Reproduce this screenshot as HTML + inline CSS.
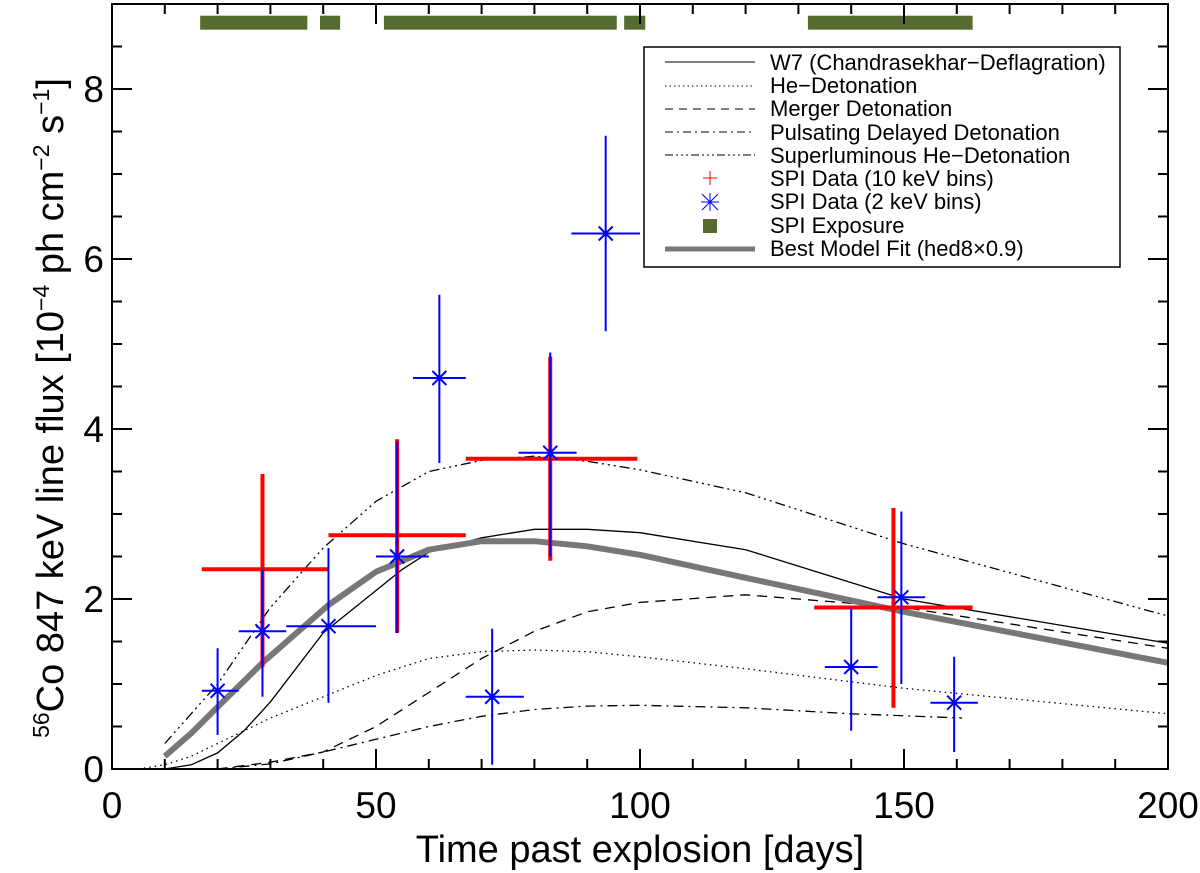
<!DOCTYPE html>
<html><head><meta charset="utf-8"><style>
body{margin:0;background:#fff;}
svg{display:block;font-family:"Liberation Sans",sans-serif;}
</style></head><body>
<svg id="chart" width="1200" height="873" xmlns="http://www.w3.org/2000/svg">
<g id="plot"></g>
</svg>
<script>
const xTicks=[0,50,100,150,200];
const yTicks=[0,2,4,6,8];
const modelX=[5,10,15,20,25,30,40,50,55,60,70,80,90,100,120,150,200];
const w7=[0,0,0.05,0.19,0.45,0.79,1.6,2.1,2.35,2.55,2.72,2.82,2.82,2.78,2.58,2.0,1.48];
const heDet=[0,0.05,0.15,0.3,0.45,0.6,0.85,1.1,1.2,1.3,1.38,1.4,1.38,1.32,1.18,0.95,0.65];
const mergerX=[20,30,40,50,60,70,80,90,100,120,150,200];
const merger=[0,0.08,0.2,0.5,0.9,1.3,1.62,1.85,1.96,2.05,1.9,1.42];
const pddX=[20,30,40,50,60,70,80,90,100,120,140,161];
const pdd=[0,0.06,0.2,0.35,0.5,0.62,0.7,0.74,0.75,0.72,0.65,0.6];
const slX=[10,20,30,40,50,60,70,80,90,100,120,150,200];
const sl=[0.3,1.0,1.9,2.6,3.15,3.5,3.63,3.68,3.62,3.52,3.25,2.65,1.8];
const fitX=[10,15,20,28.5,41,50,60,70,80,90,100,120,150,200];
const fit=[0.15,0.42,0.73,1.25,1.93,2.32,2.58,2.68,2.68,2.62,2.52,2.25,1.85,1.25];
const blueX=[20,28.5,41,54,62,72,83,93.5,140,149.5,159.5];
const blueY=[0.92,1.62,1.68,2.5,4.6,0.85,3.72,6.3,1.2,2.02,0.78];
const blueXlo=[17,24,33,50,57,67,77,87,135,145,155];
const blueXhi=[24,33,50,60,67,78,88,100,145,154,164];
const blueYlo=[0.4,0.85,0.78,1.6,3.6,0.05,2.5,5.15,0.45,1.0,0.2];
const blueYhi=[1.42,2.35,2.6,3.85,5.58,1.65,4.9,7.45,1.9,3.03,1.32];
const redX=[28.5,54,83,148];
const redY=[2.35,2.75,3.65,1.9];
const redXlo=[17,41,67,133];
const redXhi=[41,67,99.5,163];
const redYlo=[1.2,1.6,2.45,0.72];
const redYhi=[3.47,3.88,4.85,3.07];
const expStart=[16.7,39.4,51.5,97,131.8];
const expEnd=[37,43.2,95.6,101,163];
const expLevel=8.78;

const X0=112,X1=1168,Y0=769,Y1=4;
const xs=v=>X0+(v/200)*(X1-X0);
const ys=v=>Y0-(v/9)*(Y0-Y1);
const NS="http://www.w3.org/2000/svg";
const svg=document.getElementById('chart');
const g=document.getElementById('plot');
function mk(tag,attrs,parent){const e=document.createElementNS(NS,tag);for(const k in attrs)e.setAttribute(k,attrs[k]);(parent||g).appendChild(e);return e;}

for(let i=0;i<expStart.length;i++){
  const r=mk('rect',{x:xs(expStart[i]),y:ys(expLevel)-7,width:xs(expEnd[i])-xs(expStart[i]),height:14,fill:'#556b2f'});
  
  
}
function line(xa,ya,style,name){
  const d=xa.map((x,i)=>(i?'L':'M')+xs(x).toFixed(1)+' '+ys(ya[i]).toFixed(1)).join(' ');
  const p=mk('path',Object.assign({d:d,fill:'none'},style));
  
  
}
line(modelX,w7,{stroke:'#000','stroke-width':1.3},'w7-curve');
line(modelX,heDet,{stroke:'#000','stroke-width':1.3,'stroke-dasharray':'1.5 4'},'he-detonation-curve');
line(mergerX,merger,{stroke:'#000','stroke-width':1.3,'stroke-dasharray':'10 7'},'merger-detonation-curve');
line(pddX,pdd,{stroke:'#000','stroke-width':1.3,'stroke-dasharray':'10 5 2 5'},'pulsating-delayed-detonation-curve');
line(slX,sl,{stroke:'#000','stroke-width':1.3,'stroke-dasharray':'10 4 2 4 2 4 2 4'},'superluminous-he-detonation-curve');
line(fitX,fit,{stroke:'#777','stroke-width':6,'stroke-linejoin':'round'},'best-fit-curve');

for(let i=0;i<redX.length;i++){
  const e=mk('path',{d:`M${xs(redXlo[i])} ${ys(redY[i])}H${xs(redXhi[i])}M${xs(redX[i])} ${ys(redYlo[i])}V${ys(redYhi[i])}`,stroke:'#f00','stroke-width':4,fill:'none'});
  
  
}
for(let i=0;i<blueX.length;i++){
  const cx=xs(blueX[i]),cy=ys(blueY[i]);
  const e=mk('path',{d:`M${xs(blueXlo[i])} ${cy}H${xs(blueXhi[i])}M${cx} ${ys(blueYlo[i])}V${ys(blueYhi[i])}M${cx-7} ${cy-7}L${cx+7} ${cy+7}M${cx-7} ${cy+7}L${cx+7} ${cy-7}M${cx-8} ${cy}H${cx+8}`,stroke:'#00f','stroke-width':2,fill:'none'});
  
  
}

const fr=mk('rect',{x:X0,y:Y1,width:X1-X0,height:Y0-Y1,fill:'none',stroke:'#000','stroke-width':2});


let td='';
for(let v=0;v<=200;v+=10){const L=v%50?10:20;td+=`M${xs(v)} ${Y0}v${-L}M${xs(v)} ${Y1}v${L}`;}
for(let v=0;v<=9.001;v+=0.5){const L=(Math.abs(v%2)<1e-6)?20:10;td+=`M${X0} ${ys(v)}h${L}M${X1} ${ys(v)}h${-L}`;}
const tk=mk('path',{d:td,stroke:'#000','stroke-width':2});


xTicks.forEach(v=>{const t=mk('text',{x:xs(v),y:818,'font-size':37,'text-anchor':'middle'});t.textContent=v;
  
  });
yTicks.forEach(v=>{const t=mk('text',{x:104,y:ys(v)+13,'font-size':37,'text-anchor':'end'});t.textContent=v;
  
  });
</script>
<svg style="position:absolute;left:0;top:0" width="1200" height="873" xmlns="http://www.w3.org/2000/svg" font-family="Liberation Sans, sans-serif">
<text x="640" y="862" font-size="38" text-anchor="middle">Time past explosion [days]</text>
<text transform="translate(63,408) rotate(-90)" font-size="38" text-anchor="middle"><tspan font-size="23" dy="-14">56</tspan><tspan dy="14">Co 847 keV line flux [10</tspan><tspan font-size="23" dy="-14">−4</tspan><tspan dy="14"> ph cm</tspan><tspan font-size="23" dy="-14">−2</tspan><tspan dy="14"> s</tspan><tspan font-size="23" dy="-14">−1</tspan><tspan dy="14">]</tspan></text>
<g font-size="22">
<rect x="644" y="47" width="476" height="220" fill="#fff" stroke="#000" stroke-width="1.5"/>
<line x1="665" y1="62" x2="755" y2="62" stroke="#000"/>
<line x1="665" y1="86" x2="755" y2="86" stroke="#000" stroke-dasharray="1.5 3"/>
<line x1="665" y1="109" x2="755" y2="109" stroke="#000" stroke-dasharray="8 6"/>
<line x1="665" y1="132" x2="755" y2="132" stroke="#000" stroke-dasharray="8 4 2 4"/>
<line x1="665" y1="155" x2="755" y2="155" stroke="#000" stroke-dasharray="8 3 2 3 2 3 2 3"/>
<path d="M703 178h14M710 171v14" stroke="#f00"/>
<path d="M702 194l16 16M702 210l16-16M701 202h18M710 193v18" stroke="#00f"/>
<rect x="703" y="219" width="14" height="14" fill="#556b2f"/>
<line x1="665" y1="249" x2="755" y2="249" stroke="#777" stroke-width="5"/>
<text x="770" y="70">W7 (Chandrasekhar−Deflagration)</text>
<text x="770" y="93">He−Detonation</text>
<text x="770" y="116">Merger Detonation</text>
<text x="770" y="140">Pulsating Delayed Detonation</text>
<text x="770" y="163">Superluminous He−Detonation</text>
<text x="770" y="186">SPI Data (10 keV bins)</text>
<text x="770" y="209">SPI Data (2 keV bins)</text>
<text x="770" y="233">SPI Exposure</text>
<text x="770" y="256">Best Model Fit (hed8×0.9)</text>
</g>
</svg>
</body></html>
